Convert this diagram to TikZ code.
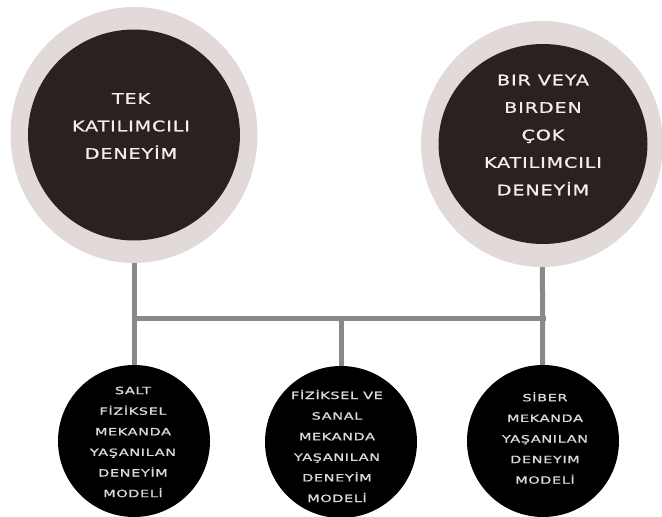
\documentclass[tikz,border=0pt]{standalone}
\usepackage{fontspec}
\usetikzlibrary{shapes.geometric}
\newfontfamily\widefont[FakeStretch=1.32,LetterSpace=6,FakeBold=1.0]{DejaVu Sans}
\newfontfamily\widerfont[FakeStretch=1.45,LetterSpace=6,FakeBold=1.0]{DejaVu Sans}
\definecolor{ringc}{HTML}{E1DAD9}
\definecolor{darkc}{HTML}{2B2220}
\definecolor{linec}{HTML}{898989}
\definecolor{toptext}{HTML}{F3EFEE}
\definecolor{bottext}{HTML}{DADADA}
\tikzset{
  ring/.style={ellipse, fill=ringc, inner sep=0pt},
  core/.style={ellipse, fill=darkc, inner sep=0pt},
  leaf/.style={circle, fill=black, inner sep=0pt, minimum size=152pt},
  bigtext/.style={align=center, text=toptext, inner sep=0pt, font=\widefont\fontsize{14.5}{27.5}\selectfont},
  smalltext/.style={align=center, text=bottext, inner sep=0pt, font=\widerfont\fontsize{10}{20.6}\selectfont},
  conn/.style={draw=linec, line width=5pt},
}
\begin{document}
\begin{tikzpicture}[x=1pt,y=-1pt]
\useasboundingbox (0,0) rectangle (662,517);
% big circles
\node[ring, minimum width=247pt, minimum height=256pt] (L) at (134,135) {};
\node[core, minimum width=212pt, minimum height=211pt] (Li) at (134,135) {};
\node[bigtext] (Lt) at (131,126) {TEK\\KATILIMCILI\\DENEYİM};
\node[ring, minimum width=242pt, minimum height=246pt] (R) at (542,144) {};
\node[core, minimum width=209pt, minimum height=200pt] (Ri) at (543,144) {};
\node[bigtext] (Rt) at (543,135) {BIR VEYA\\BIRDEN\\ÇOK\\KATILIMCILI\\DENEYİM};
% leaf circles
\node[leaf] (B1) at (134,441) {};
\node[leaf] (B2) at (341,442) {};
\node[leaf] (B3) at (543,441) {};
% connectors
\coordinate (j1) at (134,318);
\coordinate (j2) at (341,318);
\coordinate (j3) at (543,318);
\draw[conn] (L) -- (B1);
\draw[conn] (R) -- (B3);
\draw[conn] ([xshift=-2.5pt]j1) -- ([xshift=2.5pt]j3);
\draw[conn] (j2) -- (B2);
% leaf texts
\node[smalltext] (B1t) at (133,442) {SALT\\FİZİKSEL\\MEKANDA\\YAŞANILAN\\DENEYİM\\MODELİ};
\node[smalltext] (B2t) at (337,446) {FİZİKSEL VE\\SANAL\\MEKANDA\\YAŞANILAN\\DENEYİM\\MODELİ};
\node[smalltext] (B3t) at (545,438) {SİBER\\MEKANDA\\YAŞANILAN\\DENEYIM\\MODELİ};
\end{tikzpicture}
\end{document}
